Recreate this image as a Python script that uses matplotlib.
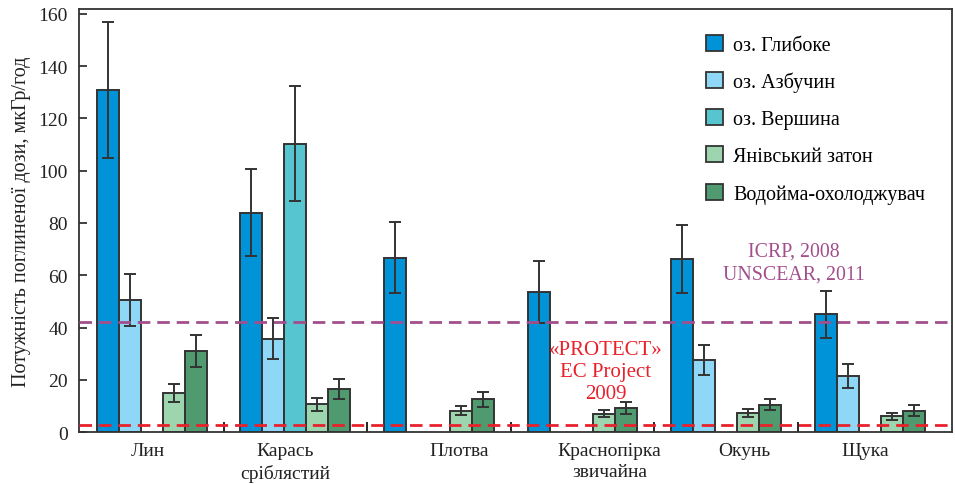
import numpy as np
import matplotlib
matplotlib.use("Agg")
import matplotlib.pyplot as plt
from matplotlib.patches import Patch

plt.rcParams["font.family"] = ["Liberation Serif", "DejaVu Serif"]

# fish species (groups) and reservoirs (series)
species = ["Лин", "Карась\nсріблястий", "Плотва", "Краснопірка\nзвичайна", "Окунь", "Щука"]
label_pos = [-0.03, 0.93, 2.14, 3.19, 4.13, 4.97]
reservoirs = ["оз. Глибоке", "оз. Азбучин", "оз. Вершина", "Янівський затон", "Водойма-охолоджувач"]
colors = ["#0093d8", "#8fd7f6", "#57c5cf", "#9dd5ae", "#4f9b6f"]

# dose rate, мкГр/год; NaN = no data
glyboke = [131, 84, 66.7, 53.6, 66.2, 45.1]
azbuchyn = [50.5, 35.8, np.nan, np.nan, 27.7, 21.5]
vershyna = [np.nan, 110.4, np.nan, np.nan, np.nan, np.nan]
yaniv = [15, 10.7, 8.2, 7.0, 7.4, 6.0]
vodoima = [31, 16.5, 12.5, 9.1, 10.5, 8.2]

glyboke_err = [26, 16.8, 13.6, 12, 13, 9]
azbuchyn_err = [10, 8, np.nan, np.nan, 5.7, 4.6]
vershyna_err = [np.nan, 22, np.nan, np.nan, np.nan, np.nan]
yaniv_err = [3.5, 2.5, 1.7, 1.4, 1.6, 1.4]
vodoima_err = [6, 3.7, 2.75, 2.3, 2.0, 2.0]

values = [glyboke, azbuchyn, vershyna, yaniv, vodoima]
errors = [glyboke_err, azbuchyn_err, vershyna_err, yaniv_err, vodoima_err]

icrp_level = 42
protect_level = 2.8

fig = plt.figure(figsize=(9.55, 4.85), dpi=100)
ax = fig.add_axes([0.0827, 0.107, 0.9142, 0.872])

x = np.arange(len(species))
w = 0.153
for k, (vals, errs) in enumerate(zip(values, errors)):
    xs = x + (k - 2) * w
    vals = np.array(vals, dtype=float)
    errs = np.array(errs, dtype=float)
    ok = ~np.isnan(vals)
    ax.bar(xs[ok], vals[ok], width=w, color=colors[k], edgecolor="#333333",
           linewidth=1.4, zorder=2)
    ax.errorbar(xs[ok], vals[ok], yerr=errs[ok], fmt="none", ecolor="#333333",
                elinewidth=1.4, capsize=4, capthick=1.4, zorder=3)

ax.axhline(icrp_level, color="#a24e8c", lw=2, ls=(0, (4.5, 2.5)), zorder=4)
ax.axhline(protect_level, color="#e8212b", lw=2, ls=(0, (4.5, 2.5)), zorder=4)

ax.text(4.47, 65, "ICRP, 2008\nUNSCEAR, 2011", color="#a24e8c", fontsize=14.3,
        ha="center", va="center", linespacing=1.3)
ax.text(3.16, 23.3, "«PROTECT»\nEC Project\n2009", color="#e8212b", fontsize=15,
        ha="center", va="center", linespacing=1.2)

ax.set_xlim(-0.507, 5.574)
ax.set_ylim(0, 161.8)
ax.set_yticks(np.arange(0, 161, 20))
ax.tick_params(axis="y", direction="in", length=6, width=1.2, pad=8, labelsize=14,
               colors="#222222")
ax.set_xticks(label_pos)
ax.set_xticklabels(species, fontsize=14, linespacing=1.35)
ax.tick_params(axis="x", length=0, pad=7, colors="#222222")
ax.set_xticks(x[:-1] + 0.5, minor=True)
ax.tick_params(axis="x", which="minor", direction="in", length=7, width=1.2)
for s in ax.spines.values():
    s.set_linewidth(1.3)
    s.set_color("#333333")

ax.set_ylabel("Потужність поглиненої дози, мкГр/год", fontsize=14.5, labelpad=5,
              color="#222222")

handles = [Patch(facecolor=c, edgecolor="#333333", linewidth=1.3) for c in colors]
ax.legend(handles, reservoirs, loc="upper left", bbox_to_anchor=(0.718, 0.94),
          frameon=False, fontsize=14.5, handlelength=0.85, handleheight=0.85,
          handletextpad=0.5, labelspacing=0.85, borderpad=0, borderaxespad=0)

fig.savefig("out.png", dpi=100)
